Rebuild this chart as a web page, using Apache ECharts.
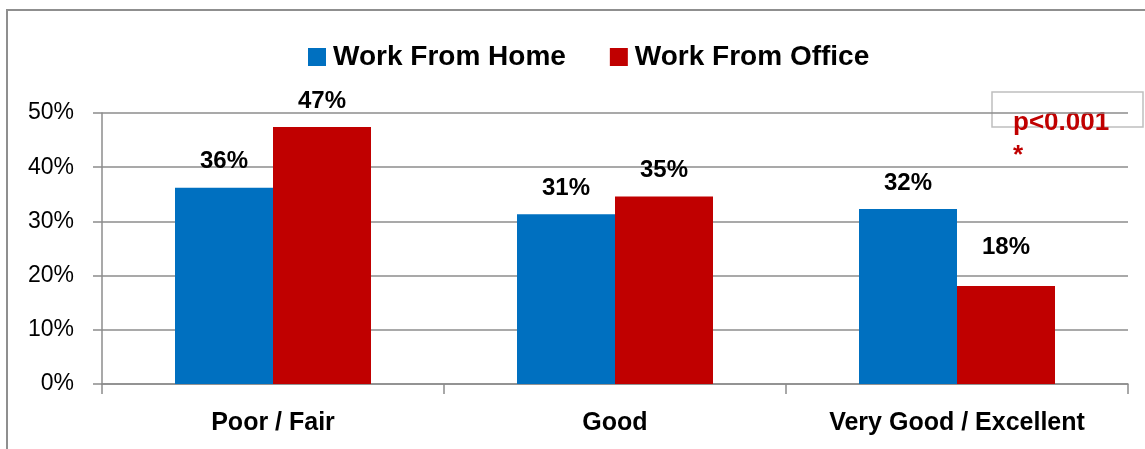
<!DOCTYPE html>
<html>
<head>
<meta charset="utf-8">
<script src="https://cdn.jsdelivr.net/npm/echarts@6/dist/echarts.min.js"></script>
<style>
html,body{margin:0;padding:0;background:#fff;}
#chart{width:1145px;height:449px;}
</style>
</head>
<body>
<div id="chart"></div>
<script>
const categories = ['Poor / Fair', 'Good', 'Very Good / Excellent'];
const workFromHome = [36.2, 31.3, 32.3];
const workFromOffice = [47.4, 34.6, 18.1];
const seriesNames = ['Work From Home', 'Work From Office'];
const yTicks = { min: 0, max: 50, interval: 10 };
const annotation = 'p<0.001\n*';

const FONT = '"Liberation Sans", Arial, sans-serif';
const AXIS = '#8c8c8c';

function labelData(vals, extraIdx, extraDist) {
  return vals.map((v, i) => i === extraIdx
    ? { value: v, label: { distance: extraDist } }
    : v);
}

const chart = echarts.init(document.getElementById('chart'), null, { renderer: 'canvas' });
chart.setOption({
  animation: false,
  textStyle: { fontFamily: FONT },
  legend: {
    left: 303, top: 38,
    icon: 'rect', itemWidth: 18, itemHeight: 18, itemGap: 44,
    textStyle: { fontFamily: FONT, fontWeight: 'bold', fontSize: 28, color: '#000', padding: [0, 0, 0, 2] },
    data: seriesNames
  },
  grid: { left: 102, right: 17, top: 113, bottom: 65, containLabel: false },
  xAxis: {
    type: 'category', data: categories,
    axisLine: { lineStyle: { color: AXIS, width: 1.5 } },
    axisTick: { show: true, length: 10, alignWithLabel: false, lineStyle: { color: AXIS, width: 1.5 } },
    axisLabel: { fontFamily: FONT, fontWeight: 'bold', fontSize: 25, color: '#000', margin: 27 }
  },
  yAxis: {
    type: 'value', min: yTicks.min, max: yTicks.max, interval: yTicks.interval,
    axisLine: { show: true, lineStyle: { color: AXIS, width: 1.5 } },
    axisTick: { show: true, length: 9, lineStyle: { color: AXIS, width: 1.5 } },
    axisLabel: { formatter: '{value}%', fontFamily: FONT, fontSize: 23, color: '#000', margin: 28 },
    splitLine: { lineStyle: { color: AXIS, width: 1.5 } }
  },
  series: [
    {
      name: seriesNames[0], type: 'bar', data: workFromHome,
      barWidth: 98, barGap: '0%',
      itemStyle: { color: '#0070C0' },
      label: { show: true, position: 'top', distance: 14, formatter: p => Math.round(p.value) + '%',
        fontFamily: FONT, fontWeight: 'bold', fontSize: 24, color: '#000' }
    },
    {
      name: seriesNames[1], type: 'bar', data: labelData(workFromOffice, 2, 27),
      barWidth: 98, barGap: '0%',
      itemStyle: { color: '#C00000' },
      label: { show: true, position: 'top', distance: 14, formatter: p => Math.round(p.value) + '%',
        fontFamily: FONT, fontWeight: 'bold', fontSize: 24, color: '#000' }
    }
  ],
  graphic: [
    { type: 'rect', silent: true, shape: { x: 7, y: 10, width: 1300, height: 600 },
      style: { fill: 'none', stroke: '#8f8f8f', lineWidth: 2 } },
    { type: 'rect', silent: true, shape: { x: 992, y: 92, width: 151, height: 35 },
      style: { fill: 'none', stroke: '#bfbfbf', lineWidth: 1.5 } },
    { type: 'text', silent: true, left: 1013, top: 106,
      style: { text: annotation, fill: '#C00000', font: 'bold 26px ' + FONT, lineHeight: 33 } }
  ]
});
</script>
</body>
</html>
